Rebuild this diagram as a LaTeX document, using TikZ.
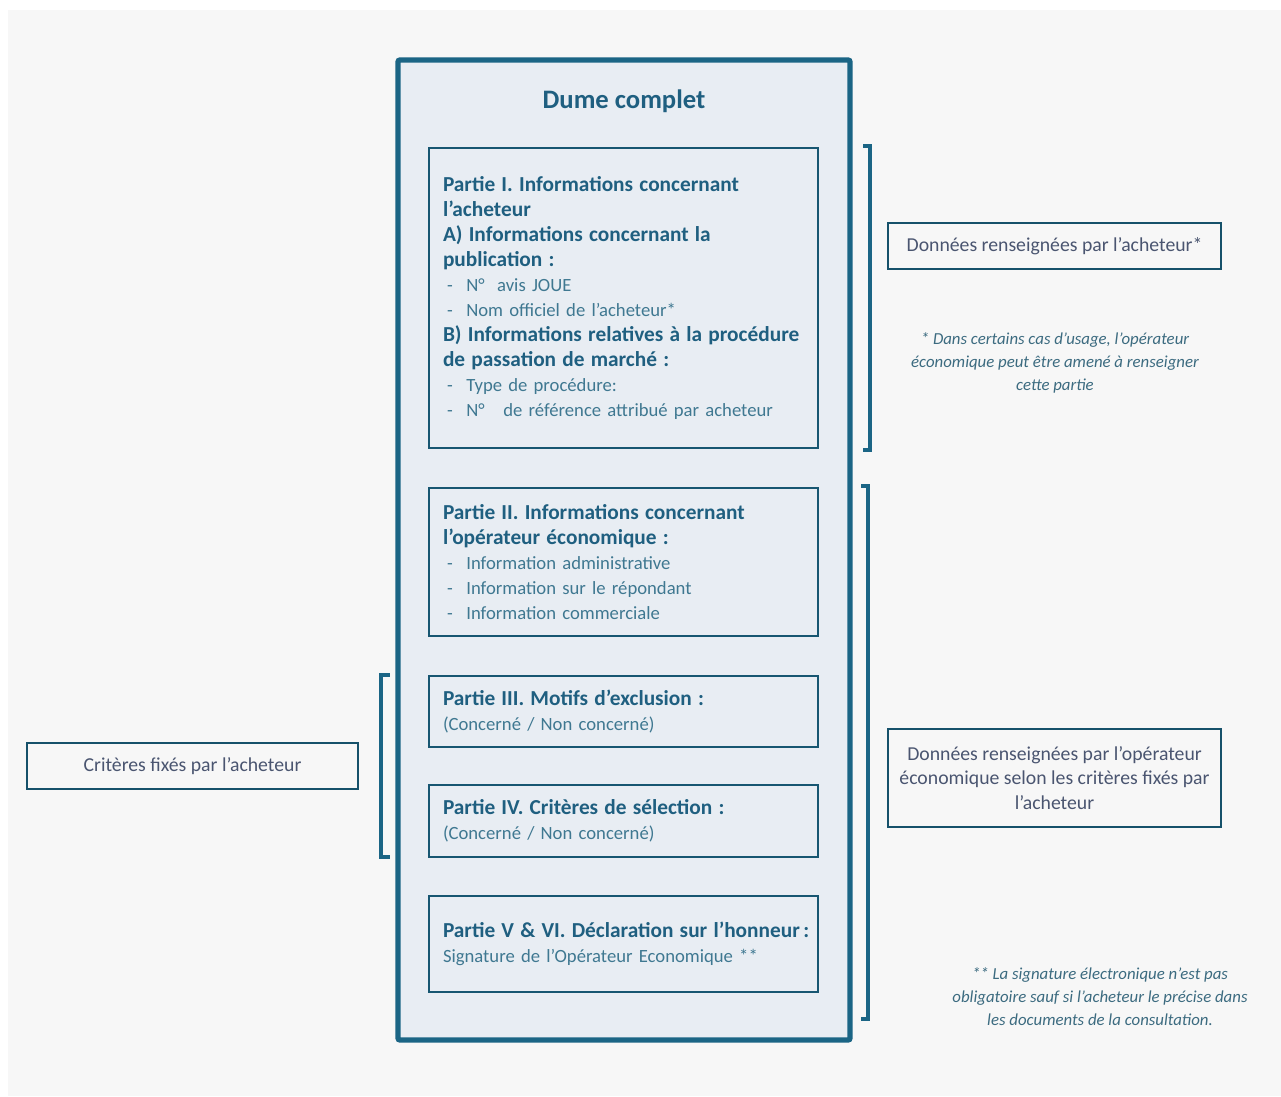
\documentclass[tikz,border=0pt]{standalone}
\usepackage{fontspec}
\setmainfont{Carlito}
\usepackage{tikz}
\usetikzlibrary{positioning}
\definecolor{dumeblue}{HTML}{1B6585}
\definecolor{dumetitle}{HTML}{1F5F80}
\definecolor{dumelight}{HTML}{3F7891}
\definecolor{dumefill}{HTML}{E8EDF3}
\definecolor{dumebg}{HTML}{F7F7F7}
\definecolor{notetext}{HTML}{4A5570}
\definecolor{footcol}{HTML}{3C6B80}
\newcommand{\puce}{\makebox[17.5pt][l]{\hspace{3pt}-}}
\newcommand{\titre}[1]{{\fontsize{16}{18.75}\selectfont\bfseries\color{dumetitle}#1}}

\begin{document}
\begin{tikzpicture}[x=0.75pt,y=-0.75pt,
    outerbox/.style={draw=dumeblue, line width=4pt, fill=dumefill, rounded corners=1.5pt,
        minimum width=339pt, minimum height=735pt},
    partbox/.style={draw=dumeblue!85!black, line width=1pt, text width=270.75pt, inner xsep=10.5pt,
        align=left, text=dumelight, font=\fontsize{14}{18.75}\selectfont},
    notebox/.style={draw=dumeblue!80!black, line width=1pt, fill=dumebg, inner sep=0pt,
        align=center, text=notetext, font=\fontsize{14.8}{18.4}\selectfont},
    footnote/.style={align=center, text=footcol, font=\fontsize{12.6}{17.3}\selectfont\itshape},
    bracket/.style={draw=dumeblue, line width=3.5pt, line cap=rect}]
  % fond
  \useasboundingbox (0,0) rectangle (1281,1096);
  \fill[white] (0,0) rectangle (1281,1096);
  \fill[dumebg] (8,10) rectangle (1281,1096);

  % cadre principal
  \node[outerbox] (dume) at (624,550) {};
  \node[font=\fontsize{20}{24}\selectfont\bfseries, text=dumetitle] (titre) at (624,101) {Dume complet};

  \node[partbox, minimum height=225pt] (p1) at (623.5,298) {%
    \titre{Partie I. Informations concernant\\ l'acheteur\\
    A) Informations concernant la\\ publication :}\\
    \puce N°\ \ avis JOUE\\
    \puce Nom officiel de l'acheteur*\\
    \titre{B) Informations relatives à la procédure\\ de passation de marché :}\\
    \puce Type de procédure:\\
    \puce N°\ \ \ de référence attribué par acheteur};
  \node[partbox, minimum height=111pt] (p2) at (623.5,562) {%
    \titre{Partie II. Informations concernant\\ l'opérateur économique :}\\
    \puce Information administrative\\
    \puce Information sur le répondant\\
    \puce Information commerciale};
  \node[partbox, minimum height=53.25pt] (p3) at (623.5,711.5) {%
    \titre{Partie III. Motifs d'exclusion :}\\ (Concerné / Non concerné)};
  \node[partbox, minimum height=54pt] (p4) at (623.5,821) {%
    \titre{Partie IV. Critères de sélection :}\\ (Concerné / Non concerné)};
  \node[partbox, minimum height=72pt] (p5) at (623.5,944) {%
    \titre{\mbox{Partie V \& VI. Déclaration sur l'honneur\,:}}\\ Signature de l'Opérateur Economique **};

  % accolades
  \draw[bracket] (865,146) -- (870,146) -- (870,450) -- (865,450);
  \draw[bracket] (863,486) -- (868,486) -- (868,1019) -- (863,1019);
  \draw[bracket] (388,675) -- (381,675) -- (381,857) -- (388,857);

  % legendes
  \node[notebox, minimum width=249.75pt, minimum height=34.5pt] (acheteur) at (1054.5,246)
    {Données renseignées par l'acheteur*};
  \node[footnote] (note1) at (1055,363) {* Dans certains cas d'usage, l'opérateur\\
    économique peut être amené à renseigner\\ cette partie};
  \node[notebox, minimum width=249.75pt, minimum height=73.5pt] (operateur) at (1054.5,778)
    {Données renseignées par l'opérateur\\ économique selon les critères fixés par\\ l'acheteur};
  \node[footnote] (note2) at (1100,997) {** La signature électronique n'est pas\\
    obligatoire sauf si l'acheteur le précise dans\\ les documents de la consultation.};
  \node[notebox, minimum width=248.25pt, minimum height=34.5pt] (criteres) at (192.5,766)
    {Critères fixés par l'acheteur};
\end{tikzpicture}
\end{document}
